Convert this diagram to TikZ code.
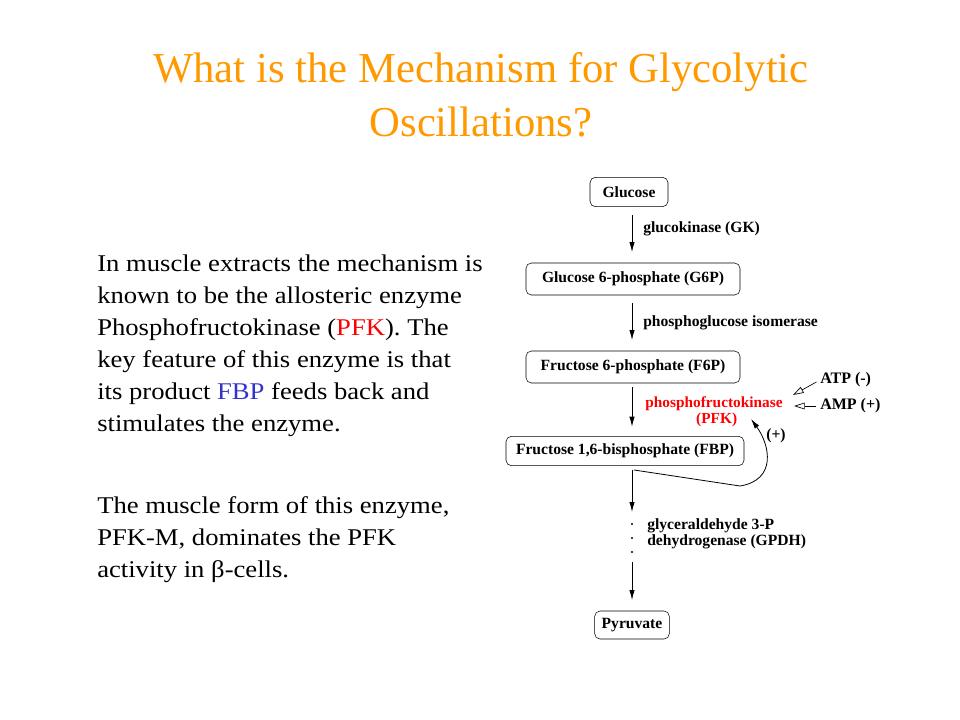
\documentclass[tikz,border=0pt]{standalone}
\usepackage{fontspec}
\setmainfont{Liberation Serif}
\newfontfamily\bodyfont[FakeStretch=1.11]{Liberation Serif}
\usetikzlibrary{arrows.meta}
\definecolor{titleorange}{RGB}{255,153,0}
\definecolor{fbpblue}{RGB}{51,51,204}
\tikzset{
	stage/.style={draw,rounded corners=4pt,font=\fontsize{11.7}{13}\selectfont\bfseries,inner sep=0pt},
	tag/.style={font=\fontsize{11.7}{12}\selectfont\bfseries,inner sep=0pt},
	flow/.style={-{Latex[length=7.5pt,width=4pt]},line width=.6pt},
	regul/.style={-{Triangle[open,length=8pt,width=5pt]},line width=.5pt},
}
\begin{document}
\begin{tikzpicture}[x=.75pt,y=-.75pt]
	\useasboundingbox(0,0)rectangle(960,720);
	% title and text
	\node[align=center,text=titleorange,font=\fontsize{32}{40.5}\selectfont](title)at(481,95){What is the Mechanism for Glycolytic\\Oscillations?};
	\node[anchor=west,align=left,font=\bodyfont\fontsize{18}{24}\selectfont,inner sep=0pt](para1)at(97,346){In muscle extracts the mechanism is\\known to be the allosteric enzyme\\Phosphofructokinase (\textcolor{red}{PFK}). The\\key feature of this enzyme is that\\its product \textcolor{fbpblue}{FBP} feeds back and\\stimulates the enzyme.};
	\node[anchor=west,align=left,font=\bodyfont\fontsize{18}{24}\selectfont,inner sep=0pt](para2)at(97,540){The muscle form of this enzyme,\\PFK-M, dominates the PFK\\activity in β-cells.};
	% pathway
	\coordinate(axis)at(632,0);
	\node[stage,minimum width=58.5pt,minimum height=22pt](glc)at(629,192){Glucose};
	\node[stage,minimum width=160.5pt,minimum height=24pt](g6p)at(633,279){Glucose 6-phosphate (G6P)};
	\node[stage,minimum width=160.5pt,minimum height=24pt](f6p)at(633,367){Fructose 6-phosphate (F6P)};
	\node[stage,minimum width=178.5pt,minimum height=22pt](fbp)at(625,451){Fructose 1,6-bisphosphate (FBP)};
	\node[stage,minimum width=56pt,minimum height=21pt](pyr)at(632,625){Pyruvate};
	\draw[flow,shorten <=6pt,shorten >=8pt](glc.south-|axis)--(g6p.north-|axis);
	\draw[flow,shorten <=6pt,shorten >=8pt](g6p.south-|axis)--(f6p.north-|axis);
	\draw[flow,shorten <=3pt,shorten >=7pt](f6p.south-|axis)--(fbp.north-|axis);
	\coordinate(brk1)at(632,512);
	\coordinate(brk2)at(632,562);
	\draw[flow,shorten <=3pt](fbp.south-|axis)--(brk1);
	\foreach \y in {524,538,552}
		\fill(632,\y)circle(1.1);
	\draw[flow,shorten >=8pt](brk2)--(pyr.north-|axis);
	% enzymes
	\node[tag,anchor=west](gk)at(643,229){glucokinase (GK)};
	\node[tag,anchor=west](pgi)at(643,323){phosphoglucose isomerase};
	\node[tag,align=center,text=red,font=\fontsize{11.5}{12}\selectfont\bfseries](pfk)at(714,412){phosphofructokinase\\\hspace*{4pt}(PFK)};
	\node[tag,align=left,anchor=west](gpdh)at(647,534){glyceraldehyde 3-P\\dehydrogenase (GPDH)};
	% regulation
	\node[tag,anchor=west,font=\fontsize{12}{12}\selectfont\bfseries](atp)at(820,380){ATP (-)};
	\node[tag,anchor=west,font=\fontsize{12}{12}\selectfont\bfseries](amp)at(820,406){AMP (+)};
	\coordinate(atpin)at(793,395);
	\coordinate(ampin)at(794,406);
	\draw[regul,shorten <=3pt](atp.west)--(atpin);
	\draw[regul,shorten <=3pt](amp.west)--(ampin);
	\coordinate(fbout)at(634,470);
	\coordinate(fbin)at(751,419);
	\draw[flow](fbout)--(740,486)..controls(777,480)and(770,445)..(fbin);
	\node[tag](plus)at(776,436){(+)};
\end{tikzpicture}
\end{document}
